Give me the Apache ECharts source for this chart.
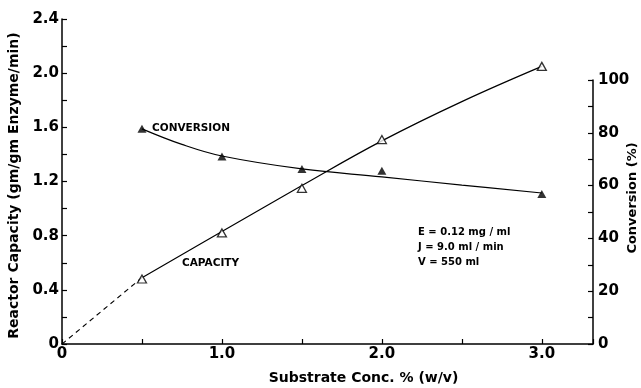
<!DOCTYPE html>
<html>
<head>
<meta charset="utf-8">
<script src="https://cdn.jsdelivr.net/npm/echarts@6/dist/echarts.min.js"></script>
<style>html,body{margin:0;padding:0;background:#fff;}#c{width:641px;height:388px;}</style>
</head>
<body>
<div id="c"></div>
<script>
// Substrate concentration % (w/v)
const substrate = [0.5, 1.0, 1.5, 2.0, 3.0];
// Reactor capacity (gm/gm enzyme/min), open triangles
const capacity = [0.48, 0.82, 1.15, 1.51, 2.05];
// Conversion (%), filled triangles
const conversion = [81.5, 71, 66.3, 65.6, 56.8];
// Drawn fitted curves
const capFitX = [0.5, 1.0, 1.5, 2.0, 2.5, 3.0];
const capFitY = [0.49, 0.83, 1.17, 1.50, 1.79, 2.05];
const capDashX = [0, 0.5];
const capDashY = [0, 0.49];
const convFitX = [0.5, 0.75, 1.0, 1.5, 2.0, 2.5, 3.0];
const convFitY = [81.5, 75.6, 71.2, 66.3, 63.3, 60.2, 57.2];
// Tick labels
const xTickLabels = {0: '0', 1: '1.0', 2: '2.0', 3: '3.0'};
const notes = ['E = 0.12 mg / ml', 'J = 9.0 ml / min', 'V = 550 ml'];

const pair = (xs, ys) => xs.map((x, i) => [x, ys[i]]);
const FONT = 'DejaVu Sans';
const axisStyle = {onZero: false, lineStyle: {color: '#000', width: 1.5}};
const tickStyle = {show: true, inside: true, length: 5, lineStyle: {color: '#000', width: 1.2}};
const labelStyle = {color: '#000', fontFamily: FONT, fontWeight: 'bold', fontSize: 15};

const chart = echarts.init(document.getElementById('c'), null, {renderer: 'canvas'});
chart.setOption({
  animation: false,
  backgroundColor: '#fff',
  grid: [
    {left: 62, right: 48, top: 19, bottom: 44, outerBoundsMode: 'none', containLabel: false},
    {left: 62, right: 48, top: 80, bottom: 44, outerBoundsMode: 'none', containLabel: false}
  ],
  xAxis: [
    {
      type: 'value', gridIndex: 0, min: 0, max: 3.32, interval: 0.5,
      axisLine: axisStyle, axisTick: tickStyle, splitLine: {show: false},
      axisLabel: Object.assign({}, labelStyle, {margin: 3,
        formatter: v => (xTickLabels[v] !== undefined ? xTickLabels[v] : '')}),
      name: 'Substrate Conc. % (w/v)', nameLocation: 'middle', nameGap: 27,
      nameTextStyle: {color: '#000', fontFamily: FONT, fontWeight: 'bold', fontSize: 14, padding: [0, 0, 0, 72]}
    },
    {
      type: 'value', gridIndex: 1, min: 0, max: 3.32, show: false
    }
  ],
  yAxis: [
    {
      type: 'value', gridIndex: 0, min: 0, max: 2.4, interval: 0.2,
      axisLine: Object.assign({show: true}, axisStyle), axisTick: tickStyle, splitLine: {show: false},
      axisLabel: Object.assign({}, labelStyle, {margin: 3,
        formatter: v => { const k = Math.round(v * 10); if (k % 4 !== 0) return ''; return k === 0 ? '0' : (k / 10).toFixed(1); }}),
      name: 'Reactor Capacity (gm/gm Enzyme/min)', nameLocation: 'middle', nameGap: 40,
      nameTextStyle: {color: '#000', fontFamily: FONT, fontWeight: 'bold', fontSize: 14, padding: [0, 0, 0, -8]}
    },
    {
      type: 'value', gridIndex: 1, position: 'right', min: 0, max: 100, interval: 10,
      axisLine: Object.assign({show: true}, axisStyle), axisTick: tickStyle, splitLine: {show: false},
      axisLabel: Object.assign({}, labelStyle, {margin: 5,
        formatter: v => (v % 20 === 0 ? String(v) : '')})
    }
  ],
  series: [
    {
      type: 'line', xAxisIndex: 0, yAxisIndex: 0, data: pair(capFitX, capFitY),
      smooth: 0.4, showSymbol: false, lineStyle: {color: '#000', width: 1.2}, z: 2
    },
    {
      type: 'line', xAxisIndex: 0, yAxisIndex: 0, data: pair(capDashX, capDashY),
      showSymbol: false, lineStyle: {color: '#000', width: 1.1, type: [5, 4]}, z: 2
    },
    {
      type: 'line', xAxisIndex: 1, yAxisIndex: 1, data: pair(convFitX, convFitY),
      smooth: 0.4, showSymbol: false, lineStyle: {color: '#000', width: 1.2}, z: 2
    },
    {
      type: 'scatter', xAxisIndex: 0, yAxisIndex: 0, data: pair(substrate, capacity),
      symbol: 'triangle', symbolSize: [9, 8],
      itemStyle: {color: '#fff', borderColor: '#000', borderWidth: 1.3}, z: 5
    },
    {
      type: 'scatter', xAxisIndex: 1, yAxisIndex: 1, data: pair(substrate, conversion),
      symbol: 'triangle', symbolSize: [9, 8],
      itemStyle: {color: '#000'}, z: 5
    }
  ],
  graphic: [
    {type: 'text', left: 152, top: 123, style: {text: 'CONVERSION', fill: '#000', font: 'bold 10.5px "DejaVu Sans"'}},
    {type: 'text', left: 182, top: 258, style: {text: 'CAPACITY', fill: '#000', font: 'bold 10.5px "DejaVu Sans"'}},
    {type: 'text', left: 418, top: 227, style: {text: notes[0], fill: '#000', font: 'bold 10px "DejaVu Sans"'}},
    {type: 'text', left: 418, top: 242, style: {text: notes[1], fill: '#000', font: 'bold 10px "DejaVu Sans"'}},
    {type: 'text', left: 418, top: 257, style: {text: notes[2], fill: '#000', font: 'bold 10px "DejaVu Sans"'}},
    {type: 'text', x: 633, y: 198, rotation: Math.PI / 2,
     style: {text: 'Conversion (%)', fill: '#000', font: 'bold 13px "DejaVu Sans"', align: 'center', verticalAlign: 'middle'}}
  ]
});
</script>
</body>
</html>
